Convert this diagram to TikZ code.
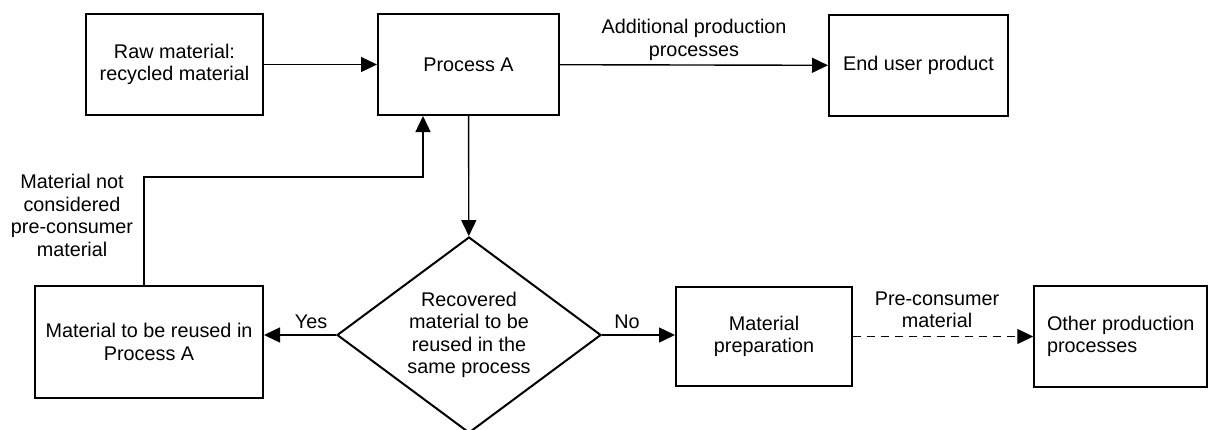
\documentclass[tikz,border=0pt]{standalone}
\usepackage{fontspec}
\setmainfont{Liberation Sans}
\usepackage{tikz}
\usetikzlibrary{shapes.geometric}
\usetikzlibrary{arrows.meta}

\begin{document}
\begin{tikzpicture}[x = 0.5pt, y = -0.5pt,
            font = \fontsize{9.9}{11.2}\selectfont,
            box/.style = {rectangle, draw, line width = 1pt, align = center, inner sep = 0pt},
            flow/.style = {line width = 0.7pt, -{Triangle[length = 8pt, width = 7.5pt]}},
            lbl/.style = {align = center, inner sep = 0pt}]
            \useasboundingbox (0,0) rectangle (1209,429);

            \node[box,
            minimum width = 88.5pt,
            minimum height = 50.5pt] (raw) at (174.5, 64.5) {Raw material:\\recycled material};

            \node[box,
            minimum width = 90.5pt,
            minimum height = 50.5pt] (procA) at (468.5, 64.5) {Process A};

            \node[box,
            minimum width = 89.5pt,
            minimum height = 50.5pt] (enduser) at (918.5, 65.5) {End user product};

            \node[box,
            minimum width = 114pt,
            minimum height = 56pt] (reuse) at (149, 342) {Material to be reused in\\Process A};

            \node[diamond,
            draw,
            line width = 1pt,
            aspect = 1.35,
            align = center,
            inner sep = 0pt,
            minimum width = 132pt,
            minimum height = 98pt] (dia) at (469, 335) {Recovered\\material to be\\reused in the\\same process};

            \node[box,
            minimum width = 88pt,
            minimum height = 49.5pt] (matprep) at (764, 336.5) {Material\\preparation};

            \node[box,
            align = left,
            minimum width = 86.5pt,
            minimum height = 50.5pt] (other) at (1120.75, 336.5) {Other production\\processes};

            % labels on the connectors
            \node[lbl] (addl) at (694, 40) {Additional production\\processes};
            \node[lbl] (notpre) at (72, 215.5) {Material not\\considered\\pre-consumer\\material};
            \node[lbl] (yes) at (311, 322) {Yes};
            \node[lbl] (no) at (627, 322) {No};
            \node[lbl] (precons) at (937, 310) {Pre-consumer\\material};

            \coordinate (bend) at (423, 177);

            \draw[flow] (raw) -- (procA);
            \draw[flow] (procA) -- (enduser);
            \draw[flow] (procA) -- (dia);
            \draw[flow] (dia.west) -- (dia.west -| reuse.east);
            \draw[flow] (dia.east) -- (dia.east -| matprep.west);
            \draw[flow, dash pattern = on 4pt off 3pt] (matprep) -- (other);
            \draw[flow] ([xshift = -2.5pt]reuse.north) |- (bend) -- (bend |- procA.south);
        \end{tikzpicture}
\end{document}
